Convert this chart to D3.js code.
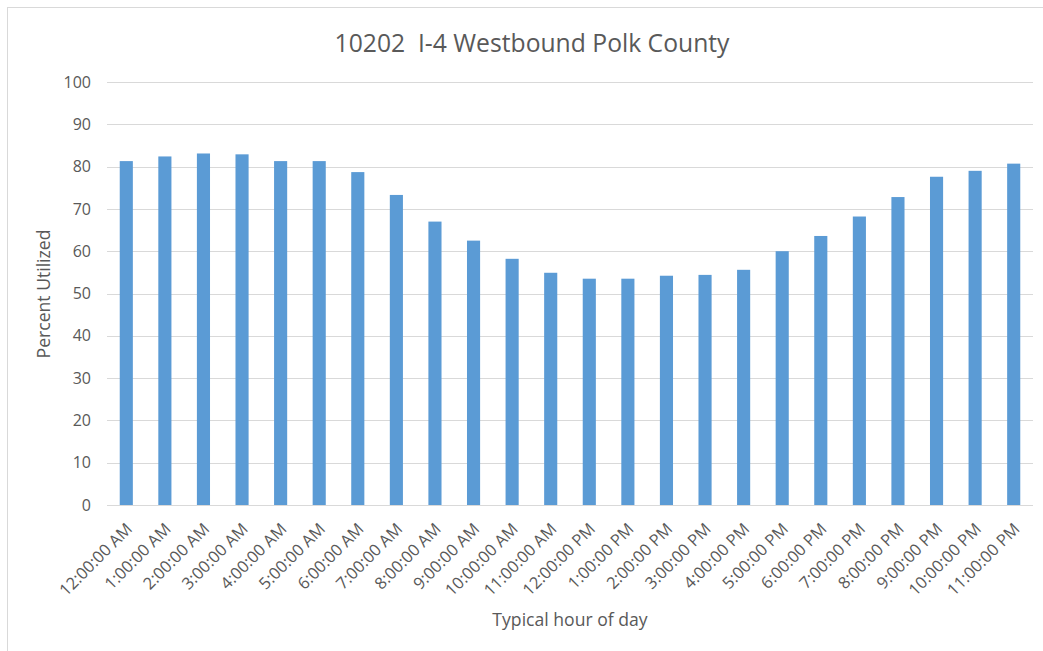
<!DOCTYPE html>
<html lang="en">
<head>
<meta charset="utf-8">
<title>10202 I-4 Westbound Polk County</title>
<style>
  body { margin: 0; background: #fff; }
  svg { display: block; font-family: "Open Sans", "Noto Sans", sans-serif; }
</style>
</head>
<body>
<svg width="1043" height="651"></svg>
<script src="https://d3js.org/d3.v7.min.js"></script>
<script>
// hour labels along the x axis
var hours = ["12:00:00 AM", "1:00:00 AM", "2:00:00 AM", "3:00:00 AM", "4:00:00 AM", "5:00:00 AM",
    "6:00:00 AM", "7:00:00 AM", "8:00:00 AM", "9:00:00 AM", "10:00:00 AM", "11:00:00 AM",
    "12:00:00 PM", "1:00:00 PM", "2:00:00 PM", "3:00:00 PM", "4:00:00 PM", "5:00:00 PM",
    "6:00:00 PM", "7:00:00 PM", "8:00:00 PM", "9:00:00 PM", "10:00:00 PM", "11:00:00 PM"];

// percent utilized
var utilized = [81.3, 82.4, 83.1, 82.9, 81.3, 81.3, 78.7, 73.3, 67.0, 62.5, 58.2, 54.9,
    53.5, 53.5, 54.2, 54.4, 55.6, 60.0, 63.6, 68.2, 72.8, 77.6, 79.0, 80.7];

var yTicks = [0, 10, 20, 30, 40, 50, 60, 70, 80, 90, 100];

var title = "10202  I-4 Westbound Polk County",
    xTitle = "Typical hour of day",
    yTitle = "Percent Utilized";

var svg = d3.select("svg"),
    textColor = "#595959",
    gridColor = "#d9d9d9",
    barColor = "#5b9bd5";

// plot area (note: "top" is taken by window.top, so use other names)
var plotLeft = 107, plotRight = 1033, plotTop = 82, plotBottom = 505;

// chart frame (only top/left edges fall inside the picture)
svg.append("rect")
    .attr("x", 7.5).attr("y", 7.5)
    .attr("width", 1040).attr("height", 650)
    .attr("fill", "none").attr("stroke", gridColor);

// bars sit in the middle of each category slot, gap ratio like Excel's
var x = d3.scaleBand().domain(hours).range([plotLeft, plotRight])
    .paddingInner(0.66).paddingOuter(0.33);
var y = d3.scaleLinear().domain([0, 100]).range([plotBottom, plotTop]);

// gridlines
svg.append("g").selectAll("line")
    .data(yTicks)
    .join("line")
    .attr("x1", plotLeft).attr("x2", plotRight)
    .attr("y1", function(d) { return Math.round(y(d)) + 0.5; })
    .attr("y2", function(d) { return Math.round(y(d)) + 0.5; })
    .attr("stroke", gridColor).attr("stroke-width", 1);

// bars
svg.append("g").selectAll("rect")
    .data(utilized)
    .join("rect")
    .attr("x", function(d, i) { return x(hours[i]); })
    .attr("y", function(d) { return y(d); })
    .attr("width", x.bandwidth())
    .attr("height", function(d) { return y(0) - y(d); })
    .attr("fill", barColor);

// y axis
var yAxis = svg.append("g")
    .attr("transform", "translate(91,0)")
    .call(d3.axisLeft(y).tickValues(yTicks).tickSize(0).tickPadding(0));
yAxis.select(".domain").remove();
yAxis.selectAll("text")
    .attr("fill", textColor)
    .style("font-family", "Open Sans, sans-serif")
    .style("font-size", "16px");

// x axis
var xAxis = svg.append("g")
    .attr("transform", "translate(0," + plotBottom + ")")
    .call(d3.axisBottom(x).tickSize(0).tickPadding(0));
xAxis.select(".domain").remove();
xAxis.selectAll("text")
    .attr("fill", textColor)
    .style("font-family", "Open Sans, sans-serif")
    .style("font-size", "16.5px")
    .attr("text-anchor", "end")
    .attr("dy", null)
    .attr("y", 0)
    .attr("transform", "translate(7,25) rotate(-45)");

// titles
svg.append("text")
    .attr("x", 532).attr("y", 52)
    .attr("text-anchor", "middle")
    .attr("fill", textColor)
    .style("font-size", "24.7px")
    .style("white-space", "pre")
    .text(title);

svg.append("text")
    .attr("x", 570).attr("y", 626)
    .attr("text-anchor", "middle")
    .attr("fill", textColor)
    .style("font-size", "17.6px")
    .text(xTitle);

svg.append("text")
    .attr("transform", "translate(50,294) rotate(-90)")
    .attr("text-anchor", "middle")
    .attr("fill", textColor)
    .style("font-size", "17.6px")
    .text(yTitle);
</script>
</body>
</html>
